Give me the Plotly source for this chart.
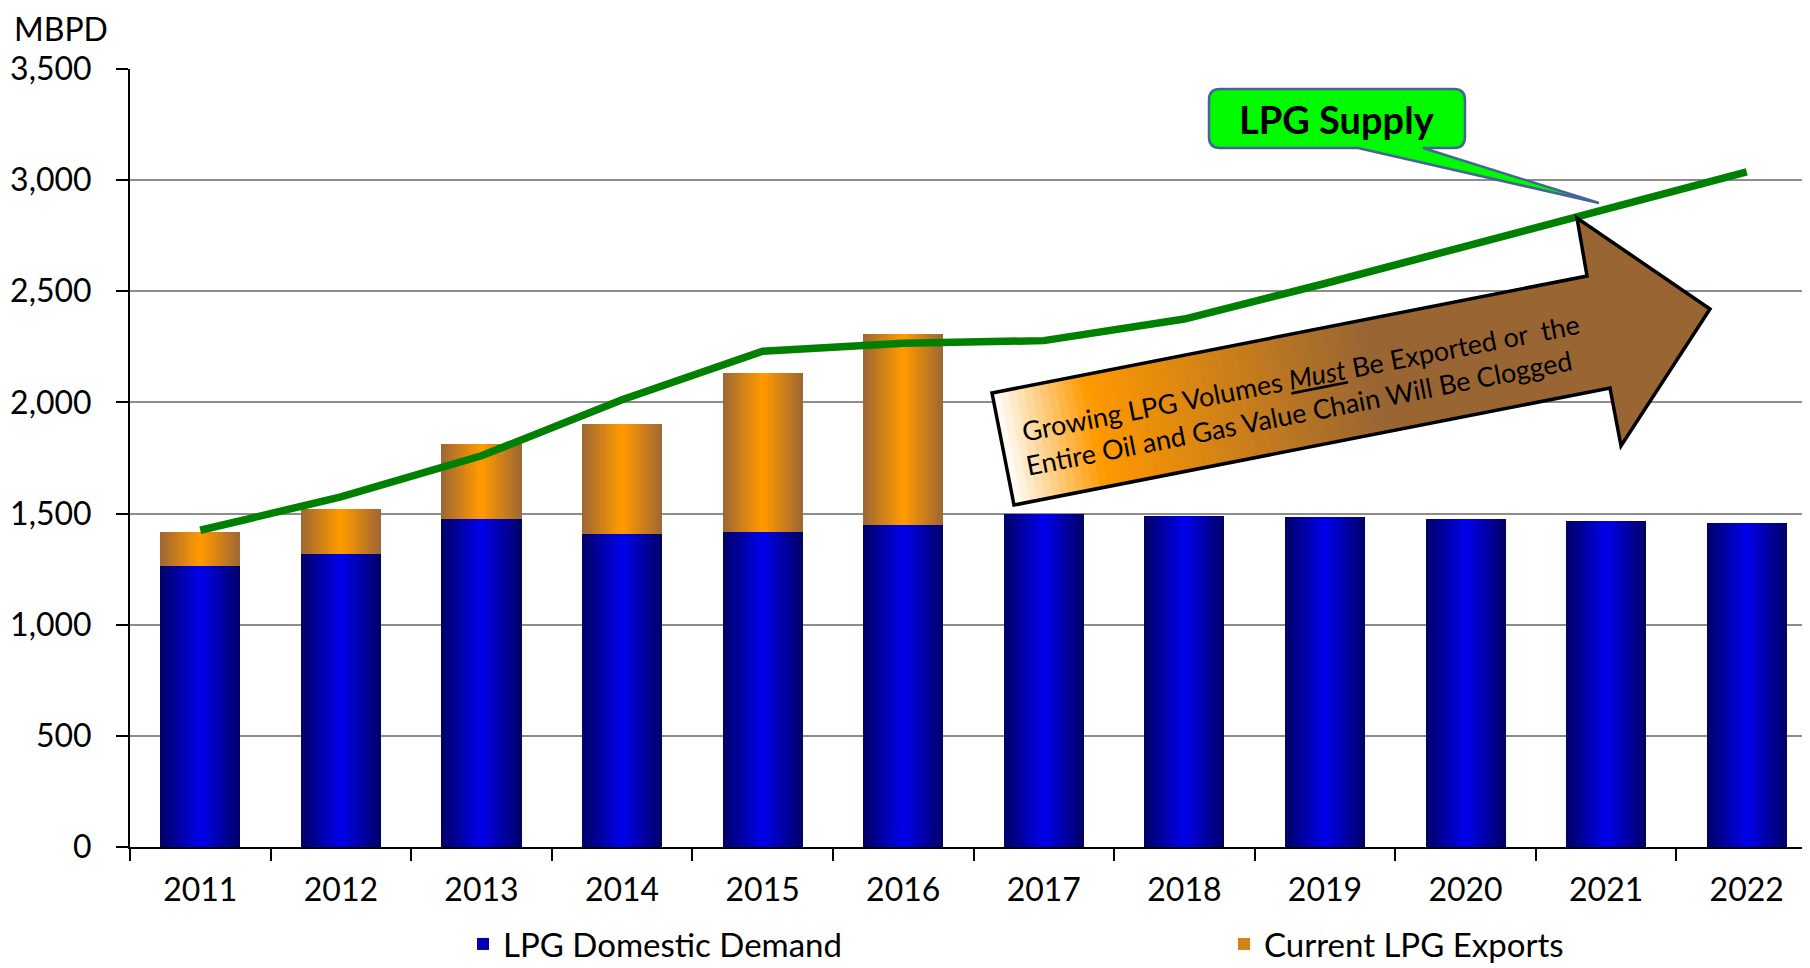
import plotly.graph_objects as go

# ---------------- data ----------------
years = ['2011', '2012', '2013', '2014', '2015', '2016',
         '2017', '2018', '2019', '2020', '2021', '2022']
domestic_demand = [1264, 1318, 1475, 1408, 1417, 1449,
                   1498, 1489, 1484, 1475, 1466, 1457]
current_exports = [153, 202, 336, 497, 716, 861,
                   None, None, None, None, None, None]
lpg_supply = [1425, 1575, 1760, 2012, 2230, 2266,
              2278, 2375, 2535, 2705, 2875, 3037]

y_ticks = [0, 500, 1000, 1500, 2000, 2500, 3000, 3500]

FONT = "Lato, Carlito, Calibri, sans-serif"

# ---------------- geometry helpers ----------------
# The page body has an 8px default margin, so the figure is made 8px smaller
# and positions (given in screen pixels) are shifted accordingly.
OFF = 8
SW, SH = 1810, 968
W, H = SW - OFF, SH - OFF
L, R, T, B = 130, 1810, 69, 847   # plot area in screen pixels


def px(X):
    return (X - L) / (R - L)


def py(Y):
    return (B - Y) / (B - T)


def lerp(c1, c2, t):
    return tuple(c1[i] + (c2[i] - c1[i]) * t for i in range(3))


def rgb(c):
    return "rgb(%d,%d,%d)" % tuple(int(round(v)) for v in c)


fig = go.Figure()

# ---------------- gradient bars (overlaid layers) ----------------
BAR_W = 0.57
N = 16
blue_edge, blue_mid = (0, 0, 105), (0, 0, 232)
org_edge, org_mid = (160, 104, 50), (255, 153, 0)

for k in range(N):
    t = k / (N - 1)
    w = BAR_W * (N - k) / N
    show = (k == N // 2)
    fig.add_trace(go.Bar(
        x=years, y=domestic_demand, width=w,
        marker=dict(color=rgb(lerp(blue_edge, blue_mid, t)), line=dict(width=0)),
        name="LPG Domestic Demand", showlegend=show, legendrank=1,
        hoverinfo="skip" if not show else None,
    ))
for k in range(N):
    t = k / (N - 1)
    w = BAR_W * (N - k) / N
    show = (k == N // 2)
    fig.add_trace(go.Bar(
        x=years, y=current_exports, base=domestic_demand, width=w,
        marker=dict(color=rgb(lerp(org_edge, org_mid, t)), line=dict(width=0)),
        name="Current LPG Exports", showlegend=show, legendrank=2,
        hoverinfo="skip" if not show else None,
    ))

# ---------------- supply line ----------------
fig.add_trace(go.Scatter(
    x=years, y=lpg_supply, mode="lines",
    line=dict(color="rgb(0,128,0)", width=7.5),
    name="LPG Supply", showlegend=False,
))

shapes = []

# ---------------- big gradient arrow ----------------
arrow = [(992, 393), (1587, 276), (1577, 218), (1710, 309),
         (1621, 446), (1610, 388), (1014, 505)]
tail_mid = ((992 + 1014) / 2, (393 + 505) / 2)
tip = (1710, 309)
dx, dy = tip[0] - tail_mid[0], tip[1] - tail_mid[1]
ln = (dx * dx + dy * dy) ** 0.5
ux, uy = dx / ln, dy / ln


def proj(p):
    return (p[0] - tail_mid[0]) * ux + (p[1] - tail_mid[1]) * uy


def clip(poly, c, keep_ge):
    out = []
    n = len(poly)
    for i in range(n):
        P, Q = poly[i], poly[(i + 1) % n]
        fp, fq = proj(P) - c, proj(Q) - c
        if not keep_ge:
            fp, fq = -fp, -fq
        if fp >= 0:
            out.append(P)
        if (fp >= 0) != (fq >= 0):
            s = fp / (fp - fq)
            out.append((P[0] + s * (Q[0] - P[0]), P[1] + s * (Q[1] - P[1])))
    return out


stops = [(0.0, (255, 255, 255)), (0.13, (255, 153, 0)),
         (0.52, (153, 102, 51)), (1.0, (153, 102, 51))]


def grad(s):
    for i in range(len(stops) - 1):
        a, ca = stops[i]
        b, cb = stops[i + 1]
        if a <= s <= b:
            return lerp(ca, cb, (s - a) / (b - a) if b > a else 0)
    return stops[-1][1]


tvals = [proj(p) for p in arrow]
tmin, tmax = min(tvals), max(tvals)
NS = 90
step = (tmax - tmin) / NS
for i in range(NS):
    a = tmin + i * step
    b = a + step * 1.6
    poly = clip(clip(arrow, a, True), b, False)
    if len(poly) < 3:
        continue
    s = (a + step / 2 - tmin) / (tmax - tmin)
    path = "M " + " L ".join("%.5f,%.5f" % (px(X), py(Y)) for X, Y in poly) + " Z"
    shapes.append(dict(type="path", xref="paper", yref="paper", path=path,
                       fillcolor=rgb(grad(s)), line=dict(width=0), layer="above"))

outline = "M " + " L ".join("%.5f,%.5f" % (px(X), py(Y)) for X, Y in arrow) + " Z"
shapes.append(dict(type="path", xref="paper", yref="paper", path=outline,
                   fillcolor="rgba(0,0,0,0)", line=dict(color="black", width=3.5),
                   layer="above"))

# ---------------- callout "LPG Supply" ----------------
x0, x1, y0, y1, r = 1209, 1465, 89, 148, 11


def P(X, Y):
    return "%.5f,%.5f" % (px(X), py(Y))


callout = ("M " + P(x0 + r, y0) + " L " + P(x1 - r, y0) + " Q " + P(x1, y0) + " " + P(x1, y0 + r) +
           " L " + P(x1, y1 - r) + " Q " + P(x1, y1) + " " + P(x1 - r, y1) +
           " L " + P(1423, y1) + " L " + P(1599, 203) + " L " + P(1358, y1) +
           " L " + P(x0 + r, y1) + " Q " + P(x0, y1) + " " + P(x0, y1 - r) +
           " L " + P(x0, y0 + r) + " Q " + P(x0, y0) + " " + P(x0 + r, y0) + " Z")
shapes.append(dict(type="path", xref="paper", yref="paper", path=callout,
                   fillcolor="rgb(0,250,0)", line=dict(color="rgb(70,100,150)", width=2.5),
                   layer="above"))

annotations = [
    dict(text="<b>LPG Supply</b>", x=px(1337), y=py(119), xref="paper", yref="paper",
         showarrow=False, xanchor="center", yanchor="middle",
         font=dict(family=FONT, size=38, color="black")),
    dict(text="MBPD", x=px(12), y=py(29), xref="paper", yref="paper",
         showarrow=False, xanchor="left", yanchor="middle",
         font=dict(family=FONT, size=32, color="black")),
    dict(text="Growing LPG Volumes <i><span style='text-decoration:underline'>Must</span></i> Be Exported or  the",
         x=px(1300), y=py(377), xref="paper", yref="paper", textangle=-11,
         showarrow=False, xanchor="center", yanchor="middle",
         font=dict(family=FONT, size=27, color="black")),
    dict(text="Entire Oil and Gas Value Chain Will Be Clogged",
         x=px(1299), y=py(412), xref="paper", yref="paper", textangle=-11,
         showarrow=False, xanchor="center", yanchor="middle",
         font=dict(family=FONT, size=27, color="black")),
]

fig.update_layout(
    width=W, height=H,
    margin=dict(l=L - OFF, r=SW - R, t=T - OFF, b=SH - B, pad=0, autoexpand=False),
    barmode="overlay",
    bargap=0,
    plot_bgcolor="white", paper_bgcolor="white",
    font=dict(family=FONT, size=32, color="black"),
    shapes=shapes,
    annotations=annotations,
    legend=dict(orientation="h", xref="container", yref="container",
                x=(463 - OFF) / W, y=1 - (944 - OFF) / H, xanchor="left", yanchor="middle",
                entrywidth=716, entrywidthmode="pixels",
                font=dict(family=FONT, size=33, color="black"),
                bgcolor="rgba(0,0,0,0)", traceorder="normal"),
    xaxis=dict(type="category", range=[-0.5, 11.45], showgrid=False,
               showline=True, linecolor="black", linewidth=2,
               ticks="outside", tickson="boundaries", ticklen=12, tickwidth=2,
               tickcolor="black", ticklabelstandoff=14, automargin=False,
               tickfont=dict(family=FONT, size=32, color="black")),
    yaxis=dict(range=[0, 3500], tickvals=y_ticks, tickformat=",",
               showgrid=True, gridcolor="#8c8c8c", gridwidth=1.5,
               zeroline=False, showline=True, linecolor="black", linewidth=2,
               ticks="outside", ticklen=12, tickwidth=2, tickcolor="black",
               ticklabelstandoff=18, automargin=False,
               tickfont=dict(family=FONT, size=32, color="black")),
)

fig.write_html("out.html")
